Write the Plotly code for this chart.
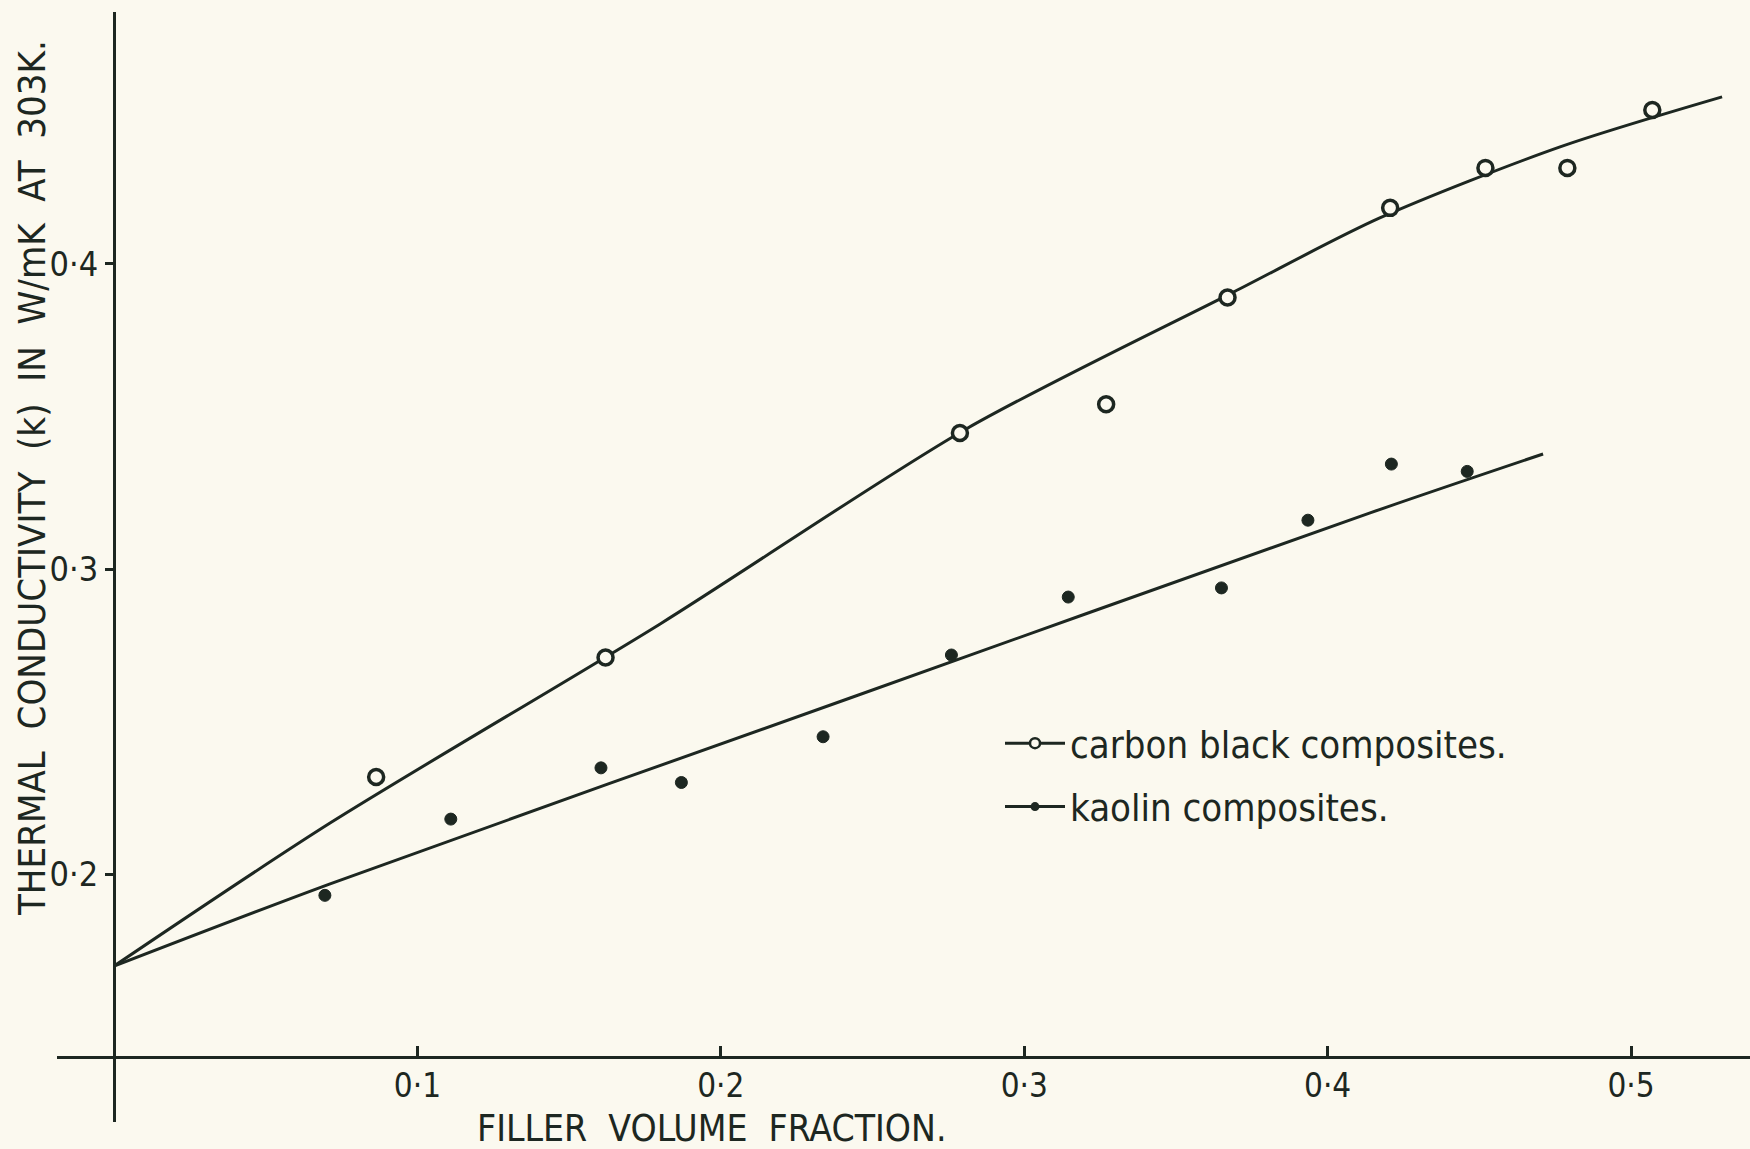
import plotly.graph_objects as go

# ---- data ----
carbon_x = [0.0864, 0.162, 0.2788, 0.327, 0.367, 0.4206, 0.452, 0.479, 0.507]
carbon_y = [0.2318, 0.271, 0.3446, 0.354, 0.389, 0.4184, 0.4315, 0.4315, 0.4505]

kaolin_x = [0.0695, 0.111, 0.1605, 0.187, 0.2337, 0.276, 0.3145, 0.365, 0.3935, 0.421, 0.446]
kaolin_y = [0.193, 0.218, 0.2348, 0.230, 0.245, 0.2718, 0.2908, 0.2938, 0.316, 0.3344, 0.332]

# hand-drawn fitted curves
carbon_curve_x = [0.0, 0.0712, 0.180, 0.281, 0.369, 0.417, 0.4766, 0.530]
carbon_curve_y = [0.1698, 0.2167, 0.282, 0.346, 0.3908, 0.415, 0.4384, 0.4548]
kaolin_curve_x = [0.0, 0.071, 0.2426, 0.414, 0.471]
kaolin_curve_y = [0.1698, 0.1967, 0.2577, 0.3184, 0.3377]

x_tickvals = [0.1, 0.2, 0.3, 0.4, 0.5]
x_ticktext = ["0\u00b71", "0\u00b72", "0\u00b73", "0\u00b74", "0\u00b75"]
y_tickvals = [0.2, 0.3, 0.4]
y_ticktext = ["0\u00b72", "0\u00b73", "0\u00b74"]

x_title = "FILLER\u00a0\u00a0VOLUME\u00a0\u00a0FRACTION."
y_title = ("THERMAL\u00a0\u00a0CONDUCTIVITY\u00a0\u00a0(k)\u00a0\u00a0IN\u00a0\u00a0W/mK"
           "\u00a0\u00a0AT\u00a0\u00a0303K.")
legend_names = ["carbon black composites.", "kaolin composites."]

# ---- style ----
INK = "#1d2721"
PAPER = "#fbf9ef"
FONT = "Liberation Sans Narrow, DejaVu Sans Condensed, Arial Narrow, sans-serif"

fig = go.Figure()

# curves
fig.add_trace(go.Scatter(x=carbon_curve_x, y=carbon_curve_y, mode="lines",
                         line=dict(color=INK, width=3, shape="spline", smoothing=0.8),
                         showlegend=False, hoverinfo="skip"))
fig.add_trace(go.Scatter(x=kaolin_curve_x, y=kaolin_curve_y, mode="lines",
                         line=dict(color=INK, width=3, shape="spline", smoothing=0.8),
                         showlegend=False, hoverinfo="skip"))

# data points
fig.add_trace(go.Scatter(x=carbon_x, y=carbon_y, mode="markers",
                         marker=dict(symbol="circle", size=15, color=PAPER,
                                     line=dict(color=INK, width=3.5)),
                         showlegend=False))
fig.add_trace(go.Scatter(x=kaolin_x, y=kaolin_y, mode="markers",
                         marker=dict(symbol="circle", size=12, color=INK,
                                     line=dict(color=INK, width=1)),
                         showlegend=False))

# legend entries (line + marker glyph)
fig.add_trace(go.Scatter(x=[None], y=[None], mode="lines+markers", name=legend_names[0],
                         legendgroup="a",
                         line=dict(color=INK, width=3),
                         marker=dict(symbol="circle", size=10, color=PAPER,
                                     line=dict(color=INK, width=2.5))))
fig.add_trace(go.Scatter(x=[None], y=[None], mode="lines+markers", name=legend_names[1],
                         legendgroup="b",
                         line=dict(color=INK, width=3),
                         marker=dict(symbol="circle", size=9, color=INK)))

W, H = 1750, 1149
L, R, T, B = 57, 0, 12, 27
PW, PH = W - L - R, H - T - B

fig.update_layout(
    width=W, height=H,
    margin=dict(l=L, r=R, t=T, b=B),
    paper_bgcolor=PAPER, plot_bgcolor=PAPER,
    font=dict(family=FONT, size=38, color=INK),
    showlegend=True,
    legend=dict(x=(1000 - L) / PW, y=(1122 - 712) / PH,
                xanchor="left", yanchor="top",
                bgcolor="rgba(0,0,0,0)", borderwidth=0,
                font=dict(family=FONT, size=38, color=INK),
                itemwidth=60, tracegroupgap=11),
    xaxis=dict(range=[-0.01879, 0.5392], anchor="free", position=0.05856,
               showgrid=False, zeroline=False,
               showline=True, linecolor=INK, linewidth=3,
               ticks="inside", ticklen=10, tickwidth=3, tickcolor=INK,
               tickvals=x_tickvals, ticktext=x_ticktext,
               ticklabelstandoff=-2,
               tickfont=dict(family=FONT, size=33, color=INK)),
    yaxis=dict(range=[0.11869, 0.48262], anchor="free", position=0.03367,
               showgrid=False, zeroline=False,
               showline=True, linecolor=INK, linewidth=3,
               ticks="outside", ticklen=8, tickwidth=3, tickcolor=INK,
               tickvals=y_tickvals, ticktext=y_ticktext,
               tickfont=dict(family=FONT, size=34, color=INK)),
    annotations=[
        dict(text=x_title, xref="paper", yref="paper",
             x=(712 - L) / PW, y=(1122 - 1128) / PH,
             xanchor="center", yanchor="middle", showarrow=False,
             font=dict(family=FONT, size=37, color=INK)),
        dict(text=y_title, xref="paper", yref="paper", textangle=-90,
             x=(32 - L) / PW, y=(1122 - 478) / PH,
             xanchor="center", yanchor="middle", showarrow=False,
             font=dict(family=FONT, size=38, color=INK)),
    ],
)

fig.write_html(
    "out.html",
    config={"displayModeBar": False},
    post_script="document.body.style.margin='0';"
                "document.body.style.background='" + PAPER + "';",
)
